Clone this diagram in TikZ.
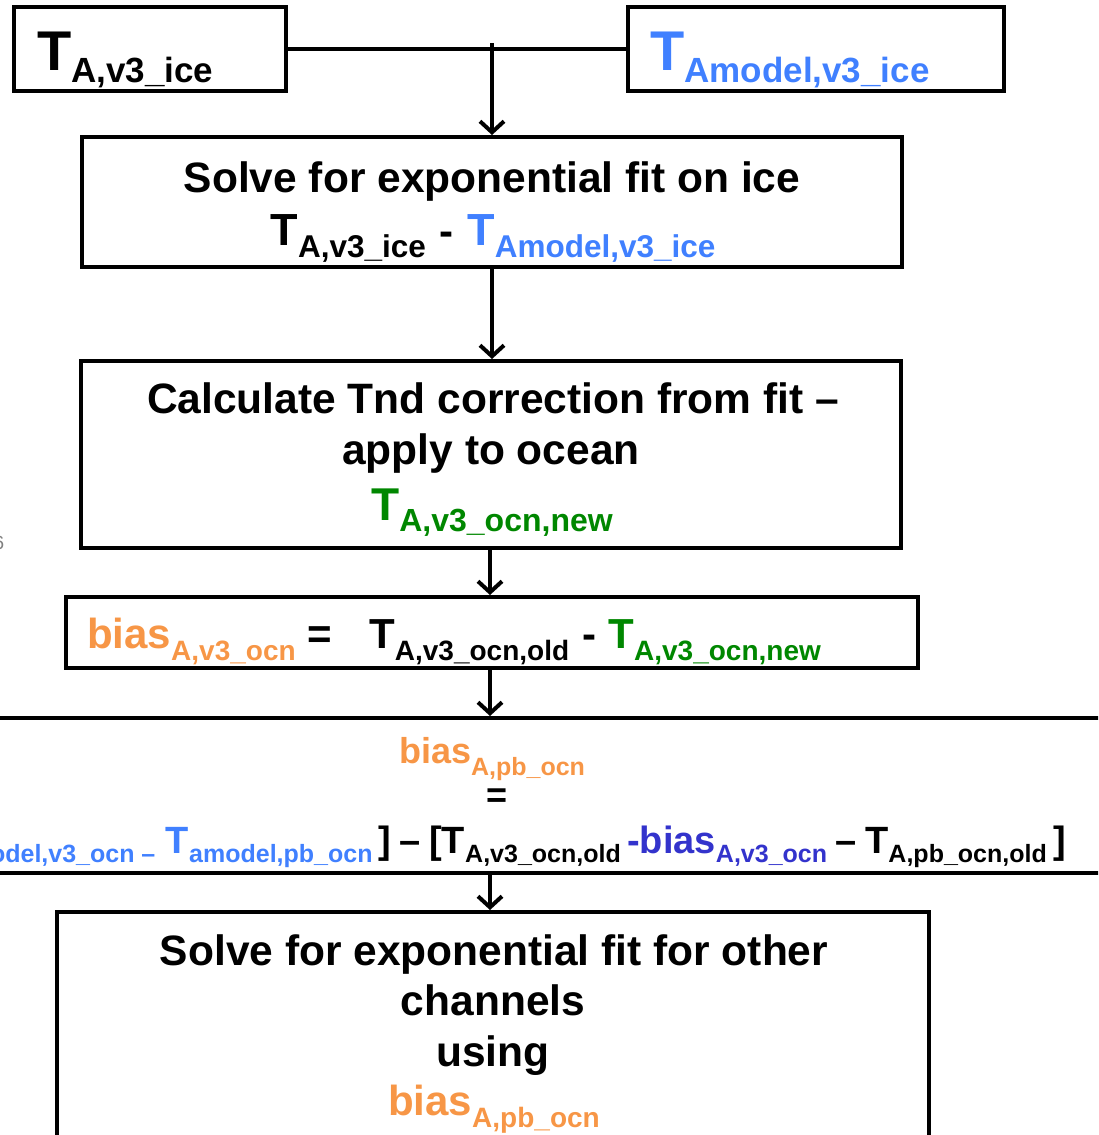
\documentclass[tikz,border=0pt]{standalone}
\usepackage{fontspec}
\setmainfont{Liberation Sans}
\usetikzlibrary{arrows.meta}
\definecolor{tblue}{RGB}{64,128,255}
\definecolor{torange}{RGB}{247,150,70}
\definecolor{tgreen}{RGB}{0,135,0}
\definecolor{tdblue}{RGB}{51,51,204}
\newcommand\fsz[1]{\fontsize{#1}{#1}\selectfont}
\newcommand\sbx[3]{\raisebox{-#1pt}{\fsz{#2}#3}}
\begin{document}
\begin{tikzpicture}[x=1pt,y=-1pt,
  box/.style={draw, line width=4pt, inner sep=0pt},
  txt/.style={inner sep=0pt, font=\bfseries},
  conn/.style={line width=4pt},
  arr/.style={line width=4pt, -{Straight Barb[length=11pt,width=24pt]}}]
\useasboundingbox (0,0) rectangle (1098,1135);
\clip (0,0) rectangle (1098,1135);
% boxes
\node[box, minimum width=272pt, minimum height=84pt] (b1) at (150,49) {};
\node[box, minimum width=376pt, minimum height=84pt] (b2) at (816,49) {};
\node[box, minimum width=820pt, minimum height=130pt] (b3) at (492,202) {};
\node[box, minimum width=820pt, minimum height=187pt] (b4) at (491,454.5) {};
\node[box, minimum width=852pt, minimum height=71pt] (b5) at (492,632.5) {};
\node[box, minimum width=1160pt, minimum height=155pt] (b6) at (549,795.5) {};
\node[box, minimum width=872pt, minimum height=250pt] (b7) at (493,1037) {};
% texts
\node[txt, anchor=base west] (t1) at (37,70) {\fsz{56}T\sbx{12}{35}{A,v3\_ice}};
\node[txt, anchor=base west, text=tblue] (t2) at (650,70) {\fsz{56}T\sbx{12}{35}{Amodel,v3\_ice}};
\node[txt, anchor=base] (t3a) at (492,192) {\fsz{42.5}Solve for exponential fit on ice};
\node[txt, anchor=base] (t3b) at (493,245) {\fsz{45}T\sbx{12}{31.5}{A,v3\_ice}\fsz{42}\hspace{2pt} - \hspace{2pt}\textcolor{tblue}{\fsz{45}T\sbx{12}{31.5}{Amodel,v3\_ice}}};
\node[txt, anchor=base] (t4a) at (493,413) {\fsz{42.5}Calculate Tnd correction from fit –};
\node[txt, anchor=base] (t4b) at (491,464) {\fsz{42.5}apply to ocean};
\node[txt, anchor=base, text=tgreen] (t4c) at (492,520) {\fsz{46}T\sbx{11}{32}{A,v3\_ocn,new}};
\node[txt, anchor=base west] (t5) at (87,648) {\fsz{42}\textcolor{torange}{bias\sbx{12}{28}{A,v3\_ocn}}\hspace{12pt}=\hspace{37pt}T\sbx{12}{28}{A,v3\_ocn,old}\hspace{2pt} - \textcolor{tgreen}{T\sbx{12}{28}{A,v3\_ocn,new}}};
\node[txt, anchor=base, text=torange] (t6a) at (492,763) {\fsz{36}bias\sbx{12}{25}{A,pb\_ocn}};
\node[txt, anchor=center] (t6b) at (497,798) {\fsz{36}=};
\node[txt, anchor=base east] (t6c) at (1066,853) {\fsz{38}[\textcolor{tblue}{T\sbx{9}{25}{amodel,v3\_ocn –} T\sbx{9}{25}{amodel,pb\_ocn}}\hspace{6pt}]\hspace{8.5pt}–\hspace{8.5pt}[T\sbx{9}{25}{A,v3\_ocn,old}\hspace{6.5pt}\textcolor{tdblue}{-bias\sbx{9}{25}{A,v3\_ocn}}\hspace{8.5pt}–\hspace{8.5pt}T\sbx{9}{25}{A,pb\_ocn,old}\,]};
\node[txt, anchor=base] (t7a) at (494,965) {\fsz{42.5}Solve for exponential fit for other};
\node[txt, anchor=base] (t7b) at (493,1015) {\fsz{42.5}channels};
\node[txt, anchor=base] (t7c) at (493,1066) {\fsz{42.5}using};
\node[txt, anchor=base, text=torange] (t7d) at (494,1115) {\fsz{42}bias\sbx{12}{28}{A,pb\_ocn}};
\node[inner sep=0pt, text=gray, anchor=center] (stray) at (-1,543) {\fsz{19}6};
% connectors
\coordinate (top) at (492,43);
\draw[conn] (b1.east) -- (b2.west);
\draw[arr] (top) -- (top |- b3.north);
\draw[arr] (b3.south) -- (b3.south |- b4.north);
\draw[arr] ([xshift=-1pt]b4.south) -- ([xshift=-1pt]b4.south |- b5.north);
\draw[arr] ([xshift=-2pt]b5.south) -- ([xshift=-2pt]b5.south |- b6.north);
\draw[arr] ([xshift=-2pt]b5.south |- b6.south) -- ([xshift=-2pt]b5.south |- b7.north);
\end{tikzpicture}
\end{document}
